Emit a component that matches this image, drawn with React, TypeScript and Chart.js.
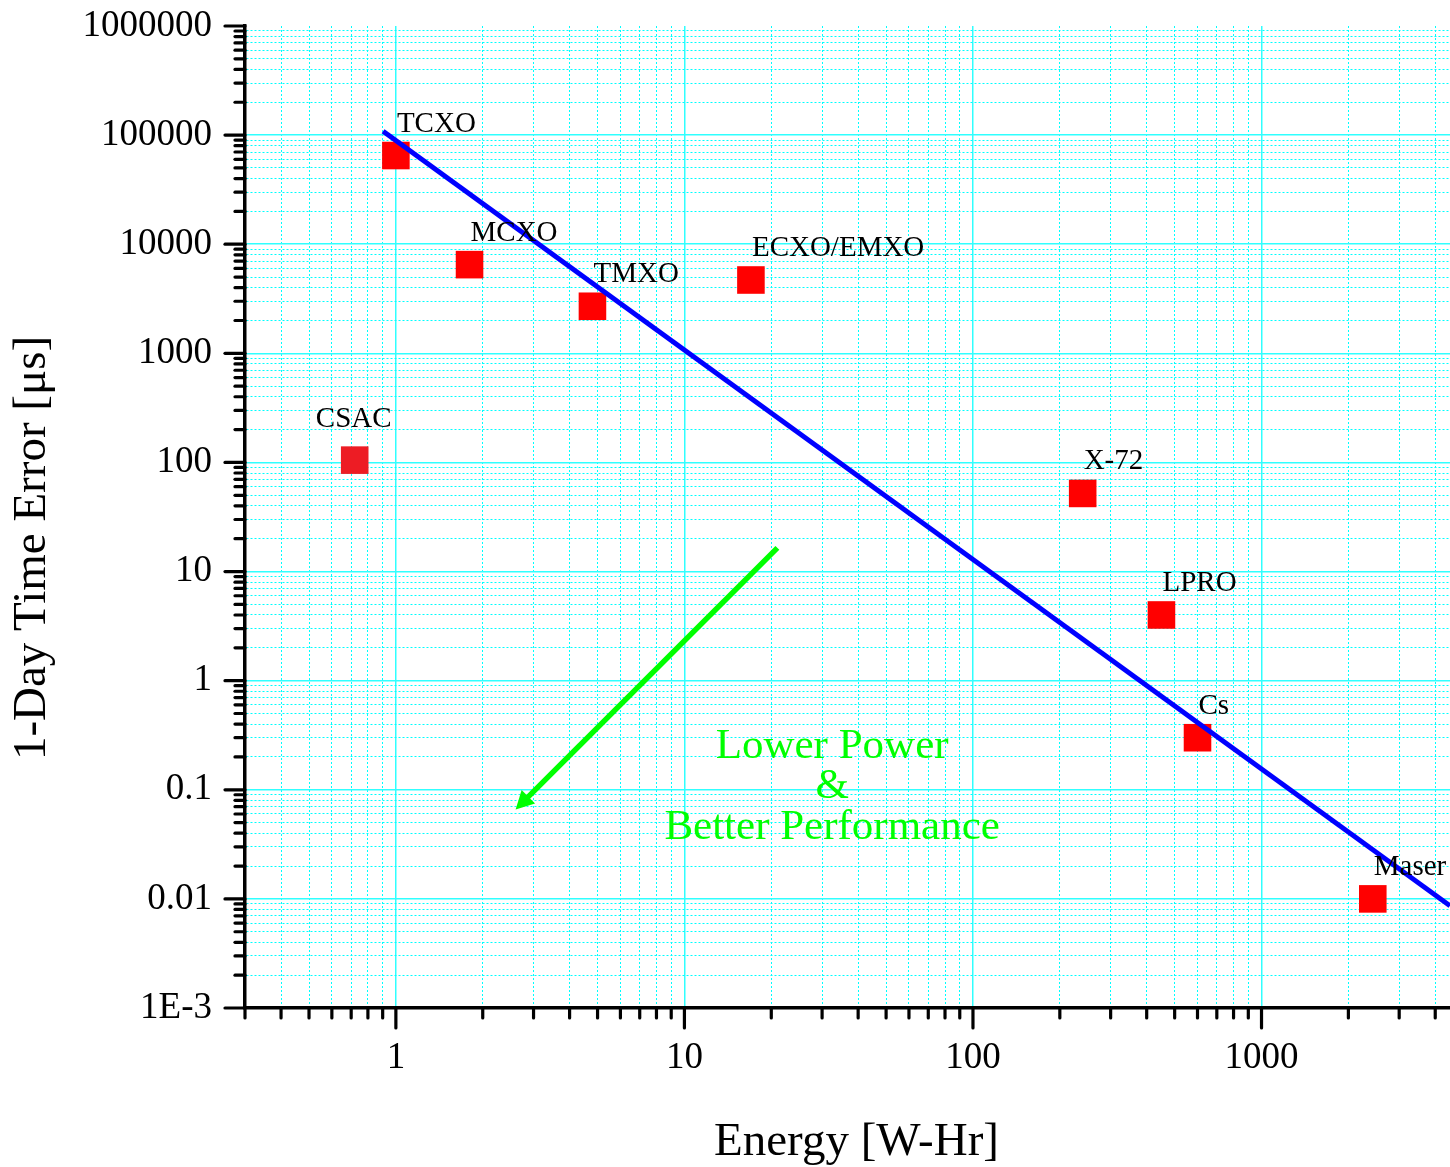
import React, { useEffect, useRef } from 'react';
import { Chart, registerables } from 'chart.js';

Chart.register(...registerables);

const FONT = '"Liberation Serif", "Times New Roman", Times, serif';

// ---- data ----
const deviceNames = ['TCXO', 'MCXO', 'TMXO', 'ECXO/EMXO', 'CSAC', 'X-72', 'LPRO', 'Cs', 'Maser'];
const energyWh = [1.0, 1.8, 4.8, 17, 0.72, 240, 450, 600, 2430];
const timeErrorUs = [65000, 6500, 2700, 4700, 105, 52, 4.0, 0.3, 0.01];
const deviceColors = ['#ff0000', '#ff0000', '#ff0000', '#ff0000', '#ed1c24', '#ff0000', '#ff0000', '#ff0000', '#ff0000'];

const trendEnergy = [0.903, 4500];
const trendError = [108600, 0.00865];

const arrowEnergy = [21, 2.6];
const arrowError = [16.5, 0.066];

const noteLines = ['Lower Power', '&', 'Better Performance'];
const noteEnergy = 32.5;
const noteError = 0.197;

const xTickValues = [1, 10, 100, 1000];
const xTickLabels = ['1', '10', '100', '1000'];
const yTickValues = [0.001, 0.01, 0.1, 1, 10, 100, 1000, 10000, 100000, 1000000];
const yTickLabels = ['1E-3', '0.01', '0.1', '1', '10', '100', '1000', '10000', '100000', '1000000'];

const xRange = [0.3, 4500];
const yRange = [0.001, 1000000];

const xTitle = 'Energy [W-Hr]';
const yTitle = '1-Day Time Error [\u03bcs]';

// ---- helpers ----
const isMajor = (v: number) => {
  const l = Math.log10(v);
  return Math.abs(l - Math.round(l)) < 1e-9;
};

const buildLogTicks = (min: number, max: number) => {
  const out: number[] = [];
  for (let e = Math.floor(Math.log10(min)); e <= Math.ceil(Math.log10(max)); e++) {
    for (let m = 1; m <= 9; m++) {
      const v = parseFloat((m * Math.pow(10, e)).toPrecision(12));
      if (v >= min * (1 - 1e-9) && v <= max * (1 + 1e-9)) out.push(v);
    }
  }
  return out;
};

const labelFor = (values: number[], labels: string[], v: number) => {
  const i = values.findIndex((t) => Math.abs(t - v) / t < 1e-6);
  return i >= 0 ? labels[i] : '';
};

const zeroPadding = (s: any) => {
  s.paddingTop = 0;
  s.paddingBottom = 0;
  s.paddingLeft = 0;
  s.paddingRight = 0;
};

const overlayPlugin = {
  id: 'overlay',
  afterDatasetsDraw(chart: any) {
    const { ctx, scales } = chart;
    const x = scales.x;
    const y = scales.y;
    ctx.save();

    // green arrow
    const x0 = x.getPixelForValue(arrowEnergy[0]);
    const y0 = y.getPixelForValue(arrowError[0]);
    const x1 = x.getPixelForValue(arrowEnergy[1]);
    const y1 = y.getPixelForValue(arrowError[1]);
    const ang = Math.atan2(y1 - y0, x1 - x0);
    const headLen = 18;
    const headHalf = 9.5;
    const bx = x1 - headLen * Math.cos(ang);
    const by = y1 - headLen * Math.sin(ang);
    ctx.strokeStyle = '#00ff00';
    ctx.fillStyle = '#00ff00';
    ctx.lineWidth = 5.5;
    ctx.lineCap = 'butt';
    ctx.beginPath();
    ctx.moveTo(x0, y0);
    ctx.lineTo(bx + 2 * Math.cos(ang), by + 2 * Math.sin(ang));
    ctx.stroke();
    ctx.beginPath();
    ctx.moveTo(x1, y1);
    ctx.lineTo(bx - headHalf * Math.sin(ang), by + headHalf * Math.cos(ang));
    ctx.lineTo(bx + headHalf * Math.sin(ang), by - headHalf * Math.cos(ang));
    ctx.closePath();
    ctx.fill();

    // note text
    ctx.font = `43px ${FONT}`;
    ctx.textAlign = 'center';
    ctx.textBaseline = 'alphabetic';
    const nx = x.getPixelForValue(noteEnergy);
    const ny = y.getPixelForValue(noteError);
    noteLines.forEach((line, i) => ctx.fillText(line, nx, ny + i * 40.7));

    // device labels
    ctx.fillStyle = '#000';
    ctx.font = `29px ${FONT}`;
    deviceNames.forEach((name, i) => {
      const px = x.getPixelForValue(energyWh[i]);
      const py = y.getPixelForValue(timeErrorUs[i]);
      if (name === 'CSAC') {
        ctx.textAlign = 'center';
        ctx.fillText(name, px - 1, py - 33);
      } else {
        ctx.textAlign = 'left';
        ctx.fillText(name, px + 1, py - 24);
      }
    });
    ctx.restore();
  },
  afterDraw(chart: any) {
    const { ctx, chartArea, scales } = chart;
    const x = scales.x;
    const y = scales.y;
    ctx.save();
    // tick marks (outward)
    ctx.strokeStyle = '#000';
    ctx.lineWidth = 3.2;
    ctx.lineCap = 'round';
    y.ticks.forEach((t: any) => {
      const py = y.getPixelForValue(t.value);
      const len = isMajor(t.value) ? 20 : 10;
      ctx.beginPath();
      ctx.moveTo(chartArea.left, py);
      ctx.lineTo(chartArea.left - len, py);
      ctx.stroke();
    });
    x.ticks.forEach((t: any) => {
      const px = x.getPixelForValue(t.value);
      const len = isMajor(t.value) ? 20 : 10;
      ctx.beginPath();
      ctx.moveTo(px, chartArea.bottom);
      ctx.lineTo(px, chartArea.bottom + len);
      ctx.stroke();
    });

    // axis titles
    ctx.fillStyle = '#000';
    ctx.font = `47px ${FONT}`;
    ctx.textAlign = 'center';
    ctx.textBaseline = 'alphabetic';
    ctx.fillText(xTitle, (chartArea.left + chartArea.right) / 2 + 9, chartArea.bottom + 147);
    ctx.translate(45, (chartArea.top + chartArea.bottom) / 2 + 31);
    ctx.rotate(-Math.PI / 2);
    ctx.fillText(yTitle, 0, 0);
    ctx.restore();
  },
};

const gridColor = (max: number) => (c: any) => {
  if (!c.tick) return '#00ffff';
  if (c.tick.value >= max * 0.999) return 'rgba(0,0,0,0)';
  return isMajor(c.tick.value) ? '#30ffff' : '#00ffff';
};

export default function App() {
  const ref = useRef<HTMLCanvasElement | null>(null);

  useEffect(() => {
    if (!ref.current) return;
    const chart = new Chart(ref.current, {
      type: 'scatter',
      data: {
        datasets: [
          {
            label: 'trend',
            data: trendEnergy.map((v, i) => ({ x: v, y: trendError[i] })),
            showLine: true,
            borderColor: '#0000ff',
            borderWidth: 5,
            pointRadius: 0,
            order: 0,
          },
          {
            label: 'devices',
            data: energyWh.map((v, i) => ({ x: v, y: timeErrorUs[i] })),
            pointStyle: 'rect',
            pointRadius: 19.5,
            backgroundColor: deviceColors,
            borderColor: deviceColors,
            borderWidth: 0,
            order: 1,
          },
        ],
      },
      options: {
        responsive: false,
        animation: false,
        events: [],
        layout: { autoPadding: false, padding: { top: 26, right: 0, left: 0, bottom: 0 } },
        plugins: { legend: { display: false }, tooltip: { enabled: false } },
        scales: {
          x: {
            type: 'logarithmic',
            min: xRange[0],
            max: xRange[1],
            afterBuildTicks: (s: any) => {
              s.ticks = buildLogTicks(xRange[0], xRange[1]).map((v) => ({ value: v }));
            },
            afterFit: (s: any) => {
              s.height = 159;
              zeroPadding(s);
            },
            grid: {
              drawTicks: false,
              color: gridColor(xRange[1]),
              lineWidth: (c: any) => (c.tick && isMajor(c.tick.value) ? 1.5 : 1),
            },
            border: {
              display: true,
              color: '#000',
              width: 3.5,
              dash: (c: any) => (c.tick && !isMajor(c.tick.value) ? [2, 2] : []),
            },
            ticks: {
              autoSkip: false,
              maxRotation: 0,
              padding: 28,
              color: '#000',
              font: { family: FONT, size: 37 },
              callback: (v: any) => labelFor(xTickValues, xTickLabels, Number(v)),
            },
          },
          y: {
            type: 'logarithmic',
            min: yRange[0],
            max: yRange[1],
            afterBuildTicks: (s: any) => {
              s.ticks = buildLogTicks(yRange[0], yRange[1]).map((v) => ({ value: v }));
            },
            afterFit: (s: any) => {
              s.width = 245;
              zeroPadding(s);
            },
            grid: {
              drawTicks: false,
              color: gridColor(yRange[1]),
              lineWidth: (c: any) => (c.tick && isMajor(c.tick.value) ? 1.5 : 1),
            },
            border: {
              display: true,
              color: '#000',
              width: 3.5,
              dash: (c: any) => (c.tick && !isMajor(c.tick.value) ? [2, 2] : []),
            },
            ticks: {
              autoSkip: false,
              padding: 33,
              color: '#000',
              font: { family: FONT, size: 37 },
              callback: (v: any) => labelFor(yTickValues, yTickLabels, Number(v)),
            },
          },
        },
      },
      plugins: [overlayPlugin],
    } as any);
    return () => chart.destroy();
  }, []);

  return (
    <div style={{ position: 'absolute', left: 0, top: 0, width: 1450, height: 1167, background: '#fff' }}>
      <canvas ref={ref} width={1450} height={1167} style={{ display: 'block' }} />
    </div>
  );
}
